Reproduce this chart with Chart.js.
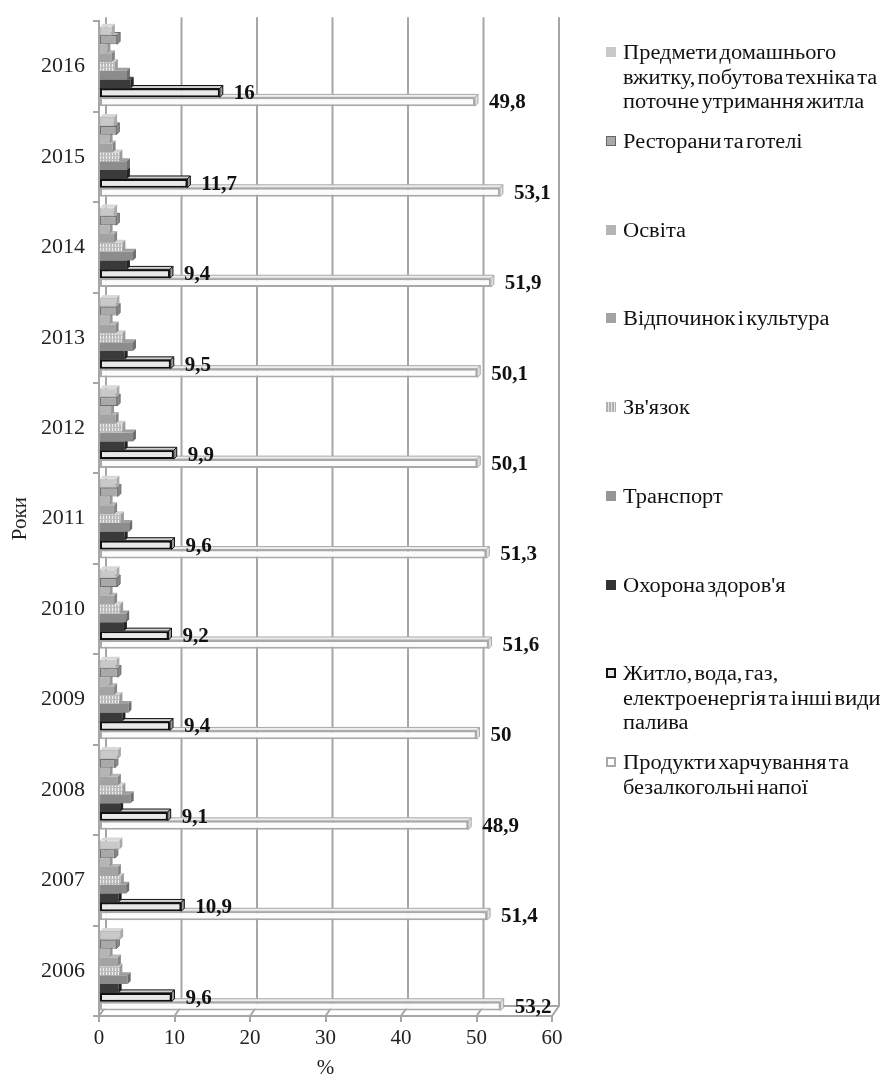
<!DOCTYPE html>
<html>
<head>
<meta charset="utf-8">
<script src="https://cdn.jsdelivr.net/npm/chart.js@4.4.0/dist/chart.umd.min.js"></script>
<style>
  html, body { margin: 0; padding: 0; background: #fff; }
  #wrap { position: relative; width: 886px; height: 1081px; }
  #chart { position: absolute; left: 0; top: 0; }
  #legend { position: absolute; left: 0; top: 0; font-family: "Liberation Serif", "Times New Roman", serif; font-size: 20px; color: #111; }
  .item { position: absolute; left: 606px; }
  .sw { position: absolute; left: 0; top: 7px; width: 10px; height: 10px; box-sizing: border-box; }
  .txt { position: absolute; left: 17px; top: 0; white-space: nowrap; line-height: 24.5px; word-spacing: -3px; transform: scaleX(1.12); transform-origin: 0 0; }
</style>
</head>
<body>
<div id="wrap">
  <canvas id="chart" width="886" height="1081"></canvas>
  <div id="legend"></div>
</div>
<script>
// Years, top of the chart first
const years = ['2016', '2015', '2014', '2013', '2012', '2011', '2010', '2009', '2008', '2007', '2006'];

// Expenditure groups, top bar of each cluster first
const seriesNames = [
  'Предмети домашнього вжитку, побутова техніка та поточне утримання житла',
  'Ресторани та готелі',
  'Освіта',
  'Відпочинок і культура',
  "Зв'язок",
  'Транспорт',
  "Охорона здоров'я",
  'Житло, вода, газ, електроенергія та інші види палива',
  'Продукти харчування та безалкогольні напої'
];

// Legend line breaks
const legendLines = [
  ['Предмети домашнього', 'вжитку, побутова техніка та', 'поточне утримання житла'],
  ['Ресторани та готелі'],
  ['Освіта'],
  ['Відпочинок і культура'],
  ["Зв'язок"],
  ['Транспорт'],
  ["Охорона здоров'я"],
  ['Житло, вода, газ,', 'електроенергія та інші види', 'палива'],
  ['Продукти харчування та', 'безалкогольні напої']
];

// Shares of total expenditure, %, in the order of `years`
const household   = [1.7, 2.0, 2.0, 2.3, 2.3, 2.3, 2.3, 2.3, 2.5, 2.7, 2.8];
const restaurants = [2.4, 2.3, 2.3, 2.4, 2.4, 2.5, 2.4, 2.5, 2.1, 2.1, 2.3];
const education   = [1.1, 1.4, 1.4, 1.4, 1.6, 1.4, 1.4, 1.4, 1.4, 1.4, 1.4];
const recreation  = [1.7, 1.8, 2.0, 2.2, 2.2, 2.0, 2.0, 2.0, 2.5, 2.5, 2.5];
const communication = [2.1, 2.7, 3.1, 3.1, 3.1, 2.9, 2.8, 2.7, 3.1, 2.9, 2.7];
const transport   = [3.7, 3.7, 4.5, 4.5, 4.5, 4.0, 3.6, 3.9, 4.2, 3.6, 3.8];
const health      = [4.2, 3.7, 3.7, 3.4, 3.4, 3.4, 3.3, 3.1, 2.8, 2.6, 2.6];
const housing     = [16, 11.7, 9.4, 9.5, 9.9, 9.6, 9.2, 9.4, 9.1, 10.9, 9.6];
const food        = [49.8, 53.1, 51.9, 50.1, 50.1, 51.3, 51.6, 50, 48.9, 51.4, 53.2];

// X axis range
const xMin = 0, xMax = 60, xStep = 10;

const FONT = '"Liberation Serif", "Times New Roman", serif';

// Streaky fill for the communication bars
function streakPattern() {
  const c = document.createElement('canvas');
  c.width = 3; c.height = 4;
  const g = c.getContext('2d');
  g.fillStyle = '#bcbcbc';
  g.fillRect(0, 0, 3, 4);
  g.fillStyle = '#ececec';
  g.fillRect(1, 0, 1, 3);
  return g.createPattern(c, 'repeat');
}

const styles = [
  { fill: '#c9c9c9', border: '#bdbdbd', bw: 1, top: '#d8d8d8', side: '#a9a9a9', edge: null, css: 'background:#c9c9c9;' },
  { fill: '#a9a9a9', border: '#6f6f6f', bw: 1, top: '#bdbdbd', side: '#8a8a8a', edge: '#6f6f6f', css: 'background:#a9a9a9;border:1px solid #666;' },
  { fill: '#b5b5b5', border: '#b5b5b5', bw: 0, top: '#c6c6c6', side: '#969696', edge: null, css: 'background:#b5b5b5;' },
  { fill: '#a3a3a3', border: '#a3a3a3', bw: 0, top: '#b6b6b6', side: '#858585', edge: null, css: 'background:#a3a3a3;' },
  { fill: streakPattern(), border: '#bcbcbc', bw: 0, top: '#d2d2d2', side: '#9c9c9c', edge: null, css: 'background:repeating-linear-gradient(90deg,#b0b0b0 0 2px,#e6e6e6 2px 3px);' },
  { fill: '#8c8c8c', border: '#8c8c8c', bw: 0, top: '#a0a0a0', side: '#6e6e6e', edge: null, css: 'background:#959595;' },
  { fill: '#3a3a3a', border: '#333333', bw: 0, top: '#4c4c4c', side: '#222222', edge: null, css: 'background:#333;' },
  { fill: '#e9e9e9', border: '#111111', bw: 2, top: '#d0d0d0', side: '#9a9a9a', edge: '#111111', css: 'background:#e4e4e4;border:2px solid #111;' },
  { fill: '#fbfbfb', border: '#a9a9a9', bw: 2, top: '#eeeeee', side: '#e0e0e0', edge: '#a9a9a9', css: 'background:#fff;border:2px solid #a9a9a9;' }
];

const values = [household, restaurants, education, recreation, communication, transport, health, housing, food];
const labelled = [false, false, false, false, false, false, false, true, true];

const datasets = values.map((v, i) => ({
  label: seriesNames[i],
  data: v,
  backgroundColor: styles[i].fill,
  borderColor: styles[i].border,
  borderWidth: styles[i].bw,
  borderSkipped: false,
  topColor: styles[i].top,
  sideColor: styles[i].side,
  edgeColor: styles[i].edge,
  showValue: labelled[i]
}));

const DEPTH = 3;
const BACK_DX = 7, BACK_DY = 10;
const GRID = '#a6a6a6';

// Back wall gridlines and floor, drawn behind the bars
const backWall = {
  id: 'backWall',
  beforeDatasetsDraw(chart) {
    const { ctx, chartArea: a } = chart;
    const xs = chart.scales.x;
    ctx.save();
    ctx.strokeStyle = GRID;
    ctx.lineWidth = 2;
    for (let v = xMin; v <= xMax; v += xStep) {
      const px = xs.getPixelForValue(v);
      ctx.beginPath();
      ctx.moveTo(px + BACK_DX, a.top - 4);
      ctx.lineTo(px + BACK_DX, a.bottom - BACK_DY);
      ctx.lineTo(px, a.bottom);
      ctx.stroke();
    }
    ctx.beginPath();
    ctx.moveTo(xs.getPixelForValue(xMin) + BACK_DX, a.bottom - BACK_DY);
    ctx.lineTo(xs.getPixelForValue(xMax) + BACK_DX, a.bottom - BACK_DY);
    ctx.stroke();
    ctx.restore();
  }
};

// Top and end faces giving the bars some depth
const barDepth = {
  id: 'barDepth',
  afterDatasetDraw(chart, args) {
    const ctx = chart.ctx;
    const ds = chart.data.datasets[args.index];
    const d = DEPTH;
    args.meta.data.forEach(el => {
      const { x, y, base, height } = el.getProps(['x', 'y', 'base', 'height'], true);
      const top = y - height / 2, bot = y + height / 2;
      ctx.save();
      ctx.lineWidth = 1;
      if (ds.edgeColor) ctx.strokeStyle = ds.edgeColor;
      ctx.beginPath();
      ctx.moveTo(base, top); ctx.lineTo(base + d, top - d);
      ctx.lineTo(x + d, top - d); ctx.lineTo(x, top); ctx.closePath();
      ctx.fillStyle = ds.topColor; ctx.fill();
      if (ds.edgeColor) ctx.stroke();
      ctx.beginPath();
      ctx.moveTo(x, top); ctx.lineTo(x + d, top - d);
      ctx.lineTo(x + d, bot - d); ctx.lineTo(x, bot); ctx.closePath();
      ctx.fillStyle = ds.sideColor; ctx.fill();
      if (ds.edgeColor) ctx.stroke();
      ctx.restore();
    });
  }
};

// Value labels to the right of the labelled bars
const valueLabels = {
  id: 'valueLabels',
  afterDatasetsDraw(chart) {
    const ctx = chart.ctx;
    ctx.save();
    ctx.font = 'bold 21px ' + FONT;
    ctx.fillStyle = '#111';
    ctx.textAlign = 'left';
    ctx.textBaseline = 'middle';
    chart.data.datasets.forEach((ds, i) => {
      if (!ds.showValue) return;
      chart.getDatasetMeta(i).data.forEach((el, j) => {
        const txt = String(ds.data[j]).replace('.', ',');
        ctx.fillText(txt, el.x + 14, el.y + 1);
      });
    });
    ctx.restore();
  }
};

new Chart(document.getElementById('chart'), {
  type: 'bar',
  data: { labels: years, datasets },
  plugins: [backWall, barDepth, valueLabels],
  options: {
    responsive: false,
    animation: false,
    indexAxis: 'y',
    layout: { padding: { top: 12, right: 334, left: 0, bottom: 0 } },
    datasets: { bar: { categoryPercentage: 0.88, barPercentage: 1 } },
    plugins: { legend: { display: false }, tooltip: { enabled: false } },
    scales: {
      x: {
        min: xMin, max: xMax,
        ticks: { stepSize: xStep, font: { family: FONT, size: 21 }, color: '#222', padding: 4 },
        grid: { drawOnChartArea: false, color: GRID, lineWidth: 2, tickLength: 6 },
        border: { color: GRID, width: 2 },
        title: { display: true, text: '%', font: { family: FONT, size: 21 }, color: '#222', padding: { top: 0, bottom: 0 } },
        afterFit(s) { s.height = 65; }
      },
      y: {
        ticks: { font: { family: FONT, size: 22 }, color: '#222', padding: 8 },
        grid: { drawOnChartArea: false, color: GRID, lineWidth: 2, tickLength: 6, offset: true },
        border: { color: GRID, width: 2 },
        title: { display: true, text: 'Роки', font: { family: FONT, size: 21 }, color: '#222', padding: { top: 8, bottom: 0 } },
        afterFit(s) { s.width = 99; }
      }
    }
  }
});

// Legend column on the right
const legend = document.getElementById('legend');
legendLines.forEach((lines, i) => {
  const item = document.createElement('div');
  item.className = 'item';
  item.style.top = (52 + i * 88.75 - 12) + 'px';
  const sw = document.createElement('div');
  sw.className = 'sw';
  sw.style.cssText = styles[i].css;
  const txt = document.createElement('div');
  txt.className = 'txt';
  lines.forEach((l, k) => {
    if (k) txt.appendChild(document.createElement('br'));
    txt.appendChild(document.createTextNode(l));
  });
  item.appendChild(sw);
  item.appendChild(txt);
  legend.appendChild(item);
});
</script>
</body>
</html>
